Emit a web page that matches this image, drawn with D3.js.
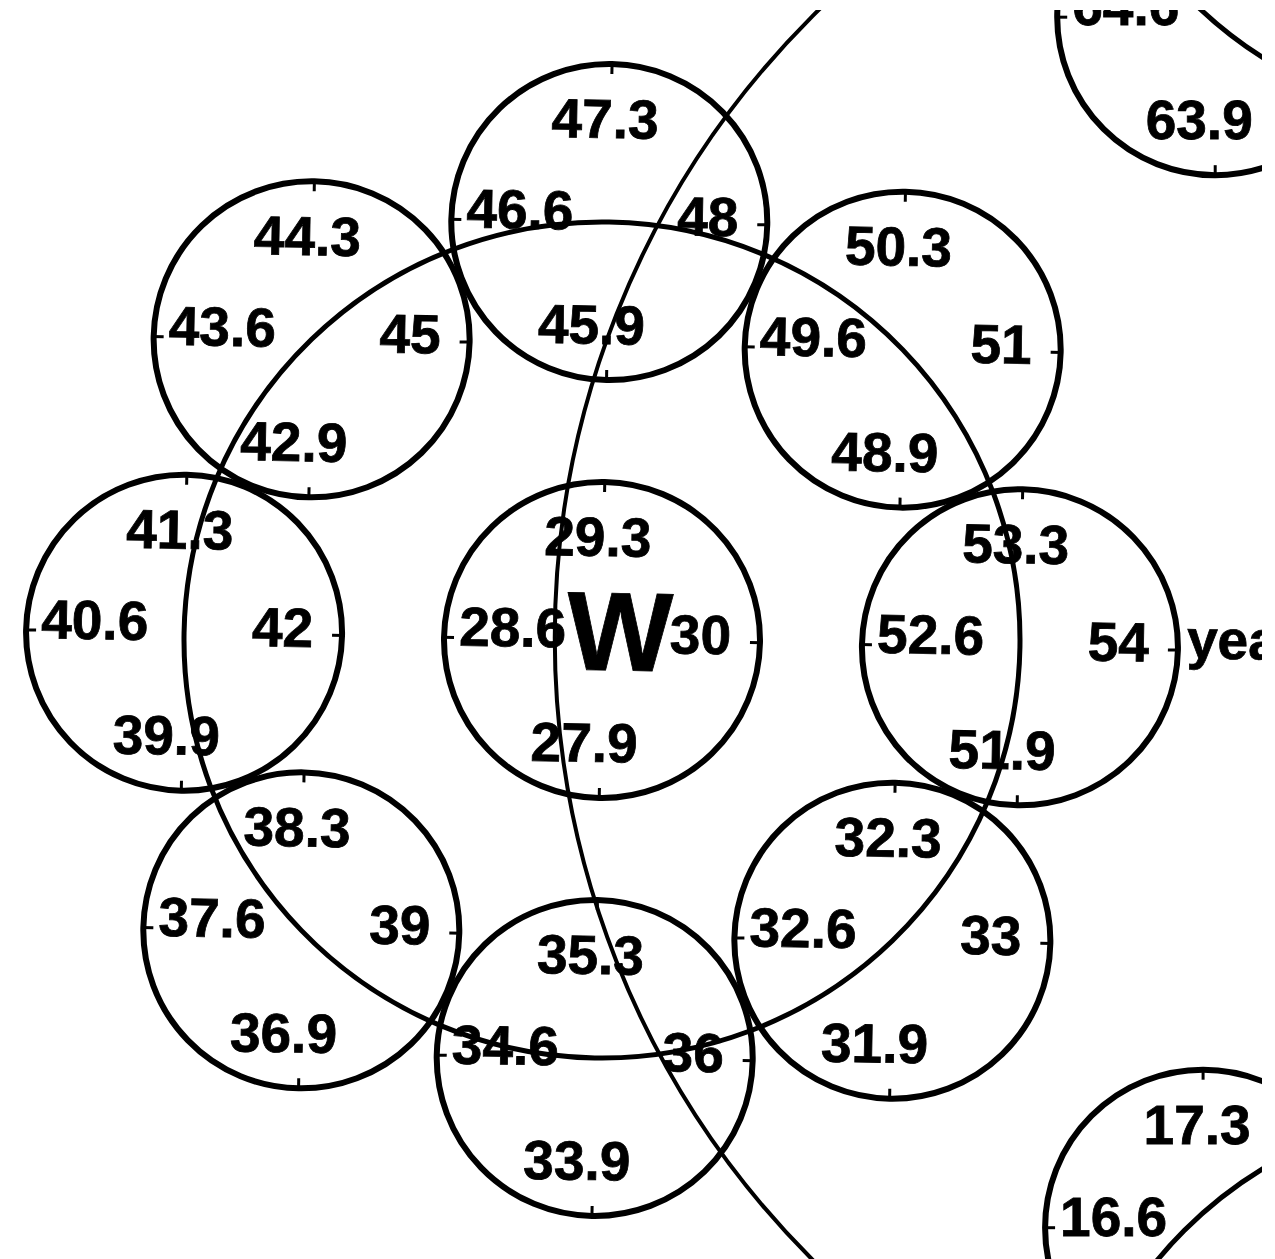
<!DOCTYPE html>
<html>
<head>
<meta charset="utf-8">
<script src="https://cdn.jsdelivr.net/npm/d3@7"></script>
<style>
  body { margin: 0; background: #fff; }
  text { font-family: "Liberation Sans", Arial, Helvetica, sans-serif; font-weight: bold; fill: #000; stroke: #000; stroke-width: 0.8; }
</style>
</head>
<body>
<div id="chart"></div>
<script>
// ring slots, clockwise from 12 o'clock
const slots = [0, 1, 2, 3, 4, 5, 6, 7];
const topVals    = [47.3, 50.3, 53.3, 32.3, 35.3, 38.3, 41.3, 44.3];
const leftVals   = [46.6, 49.6, 52.6, 32.6, 34.6, 37.6, 40.6, 43.6];
const rightVals  = [48,   51,   54,   33,   36,   39,   42,   45];
const bottomVals = [45.9, 48.9, 51.9, 31.9, 33.9, 36.9, 39.9, 42.9];

// centre circle
const centreLabel = "W";
const centreVals = [29.3, 28.6, 30, 27.9]; // top, left, right, bottom

// neighbouring clusters, mostly off the page
const edgeNames  = ["upper", "lower"];
const edgeTop    = [null, 17.3];
const edgeLeft   = [64.6, 16.6];
const edgeRight  = [null, null];
const edgeBottom = [63.9, null];

const unitLabel = "years";

// ---- layout ----
const width = 1275, height = 1259;
const cx0 = 602, cy0 = 640;   // centre of W
const ringPx = 418;           // ring radius in px
const rad = 158;              // small circle radius
const tilt = 1;               // scan is turned a little

// positions in ring units
const edgePos = [[1.467, -1.490], [1.438, 1.406]];
const bigArc = { c: [1.990, -0.005], r: 2.103 };
const cornerRings = [{ c: [2.115, -2.239], r: 1 }, { c: [2.100, 2.120], r: 1 }];

const x = d3.scaleLinear().domain([-1, 1]).range([cx0 - ringPx, cx0 + ringPx]);
const y = d3.scaleLinear().domain([-1, 1]).range([cy0 - ringPx, cy0 + ringPx]);
const len = d3.scaleLinear().domain([0, 1]).range([0, ringPx]);
const angle = d3.scaleLinear().domain([0, 8]).range([0, 2 * Math.PI]);

// label offsets from a circle's centre
const offs = {
  top:    [-6, -84, "middle"],
  left:   [-143, 8, "start"],
  right:  [129, 12, "end"],
  bottom: [-16, 122, "middle"]
};
const fs = 55;

const svg = d3.select("#chart").append("svg")
    .attr("width", width).attr("height", height);

svg.append("defs").append("clipPath").attr("id", "page")
  .append("rect").attr("x", 0).attr("y", 10).attr("width", 1262).attr("height", height - 10);

const root = svg.append("g").attr("clip-path", "url(#page)");

function drawCircle(parent, px, py, vals) {
  const g = parent.append("g").attr("transform", `translate(${px},${py})`);
  g.append("circle")
    .attr("r", rad)
    .attr("fill", "none")
    .attr("stroke", "#000")
    .attr("stroke-width", 6);
  g.selectAll("line")
    .data([0, 90, 180, 270])
    .join("line")
    .attr("transform", d => `rotate(${d})`)
    .attr("x1", 0).attr("x2", 0)
    .attr("y1", -rad - 2).attr("y2", -rad + 10)
    .attr("stroke", "#000")
    .attr("stroke-width", 3);
  const keys = ["top", "left", "right", "bottom"];
  keys.forEach((k, i) => {
    if (vals[i] == null) return;
    g.append("text")
      .attr("x", offs[k][0])
      .attr("y", offs[k][1])
      .attr("text-anchor", offs[k][2])
      .attr("font-size", fs)
      .text(vals[i]);
  });
  return g;
}

// big arcs first, circles sit on top
root.append("circle")
  .attr("cx", x(bigArc.c[0])).attr("cy", y(bigArc.c[1]))
  .attr("r", len(bigArc.r))
  .attr("fill", "none").attr("stroke", "#000").attr("stroke-width", 4);

cornerRings.forEach(d => {
  root.append("circle")
    .attr("cx", x(d.c[0])).attr("cy", y(d.c[1]))
    .attr("r", len(d.r))
    .attr("fill", "none").attr("stroke", "#000").attr("stroke-width", 5);
});

const tilted = root.append("g").attr("transform", `rotate(${tilt},${cx0},${cy0})`);

// ring through the satellite centres
tilted.append("circle")
  .attr("cx", x(0)).attr("cy", y(0)).attr("r", len(1))
  .attr("fill", "none").attr("stroke", "#000").attr("stroke-width", 5);

// centre circle
const cg = drawCircle(tilted, x(0), y(0), centreVals);
cg.append("text")
  .attr("x", 18).attr("y", 30)
  .attr("text-anchor", "middle")
  .attr("font-size", 112)
  .text(centreLabel);

// satellites
slots.forEach((s, i) => {
  const a = angle(s);
  const px = x(Math.sin(a)), py = y(-Math.cos(a));
  const g = drawCircle(tilted, px, py, [topVals[i], leftVals[i], rightVals[i], bottomVals[i]]);
  if (s === 2) {
    g.append("text")
      .attr("x", rad + 9).attr("y", 8)
      .attr("font-size", fs)
      .text(unitLabel);
  }
});

// partial circles at the page edge
edgeNames.forEach((n, i) => {
  drawCircle(root, x(edgePos[i][0]), y(edgePos[i][1]),
    [edgeTop[i], edgeLeft[i], edgeRight[i], edgeBottom[i]]);
});
</script>
</body>
</html>
